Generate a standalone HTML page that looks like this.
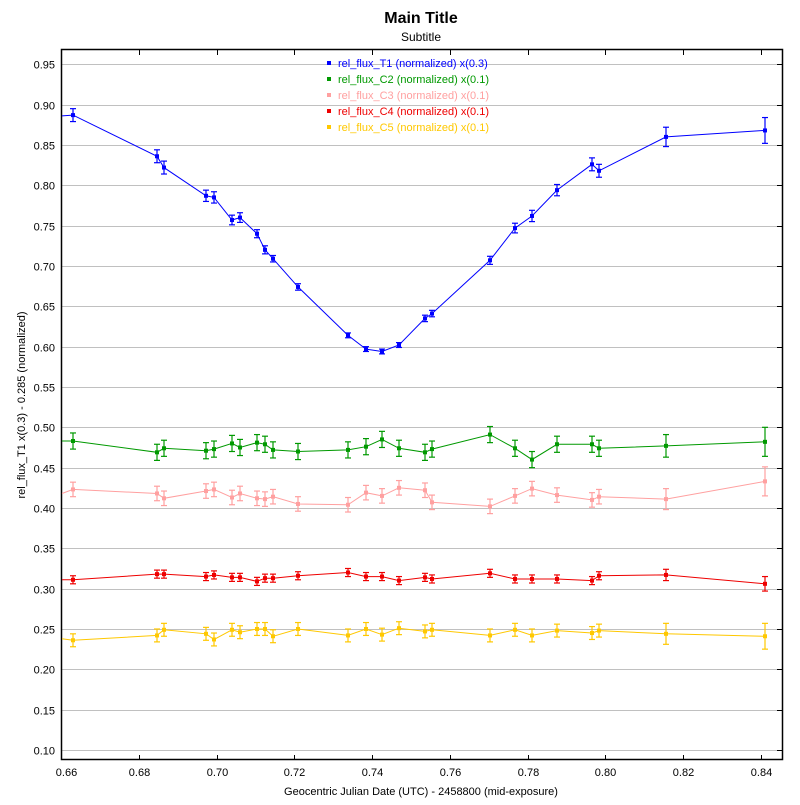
<!DOCTYPE html>
<html><head><meta charset="utf-8"><style>
body{margin:0;background:#fff;font-family:"Liberation Sans",sans-serif}
</style></head><body>
<svg id="s" width="800" height="800" xmlns="http://www.w3.org/2000/svg" font-family="Liberation Sans, sans-serif">
<rect width="800" height="800" fill="#fff"/>
<text x="421" y="23" font-size="16" font-weight="bold" text-anchor="middle">Main Title</text>
<text x="421" y="41" font-size="12" text-anchor="middle">Subtitle</text>
<g id="grid"></g>
<rect x="61.5" y="49.5" width="721" height="710" fill="none" stroke="#000" stroke-width="1.5"/>
<g id="data"></g>
<text x="421" y="795" font-size="11" text-anchor="middle">Geocentric Julian Date (UTC) - 2458800 (mid-exposure)</text>
<text transform="translate(25,405) rotate(-90)" font-size="11" text-anchor="middle">rel_flux_T1 x(0.3) - 0.285 (normalized)</text>
<g id="leg" font-size="11"></g>
</svg>
<script>
const NS="http://www.w3.org/2000/svg";
function el(p,t,a,txt){const e=document.createElementNS(NS,t);for(const k in a)e.setAttribute(k,a[k]);if(txt!=null)e.textContent=txt;p.appendChild(e);return e;}
const Y=v=>64.3+(0.95-v)*806.7;
const X=d=>61.3+(d-0.66)*3885;
const g=document.getElementById('grid');
for(let i=0;i<=17;i++){const v=0.95-i*0.05,y=Math.round(Y(v))+0.5;
el(g,'line',{x1:62,x2:782,y1:y,y2:y,stroke:'#c0c0c0'});
el(g,'line',{x1:777,x2:782,y1:y,y2:y,stroke:'#000'});
el(g,'text',{x:55,y:y+4,'font-size':11,'text-anchor':'end'},v.toFixed(2));}
for(let i=0;i<=9;i++){const d=0.66+i*0.02,x=Math.round(X(d))+0.5;
el(g,'line',{x1:x,x2:x,y1:760,y2:755,stroke:'#000'});
el(g,'line',{x1:x,x2:x,y1:50,y2:55,stroke:'#000'});
el(g,'text',{x:x+(i==0?5:0),y:776,'font-size':11,'text-anchor':'middle'},d.toFixed(2));}
const xs=[73,157,164,206,214,232,240,257,265,273,298,348,366,382,399,425,432,490,515,532,557,592,599,666,765];
const S=[
['#0000ff','rel_flux_T1 (normalized) x(0.3)',0.886,[0.887,0.836,0.822,0.787,0.785,0.757,0.760,0.740,0.720,0.709,0.674,0.614,0.597,0.594,0.602,0.635,0.641,0.707,0.747,0.762,0.794,0.826,0.818,0.860,0.868],[.008,.008,.008,.007,.007,.006,.006,.005,.005,.004,.004,.003,.003,.003,.003,.004,.004,.005,.006,.007,.007,.008,.008,.012,.016]],
['#009900','rel_flux_C2 (normalized) x(0.1)',0.483,[0.483,0.469,0.474,0.471,0.473,0.480,0.475,0.481,0.479,0.472,0.470,0.472,0.476,0.485,0.474,0.469,0.473,0.491,0.474,0.460,0.479,0.479,0.474,0.477,0.482],[.01,.01,.01,.01,.01,.01,.01,.01,.01,.01,.01,.01,.01,.01,.01,.01,.01,.01,.01,.01,.01,.01,.01,.014,.018]],
['#ffa0a0','rel_flux_C3 (normalized) x(0.1)',0.418,[0.423,0.418,0.412,0.421,0.423,0.413,0.418,0.412,0.411,0.414,0.405,0.404,0.419,0.415,0.425,0.422,0.407,0.402,0.415,0.424,0.416,0.410,0.414,0.411,0.433],[.009,.009,.009,.009,.009,.009,.009,.009,.009,.009,.009,.009,.009,.009,.009,.009,.009,.009,.009,.009,.009,.009,.009,.013,.018]],
['#ee0000','rel_flux_C4 (normalized) x(0.1)',0.311,[0.311,0.318,0.318,0.315,0.317,0.314,0.314,0.309,0.313,0.313,0.316,0.320,0.315,0.315,0.310,0.314,0.312,0.319,0.312,0.312,0.312,0.310,0.316,0.317,0.306],[.005,.005,.005,.005,.005,.005,.005,.005,.005,.005,.005,.005,.005,.005,.005,.005,.005,.005,.005,.005,.005,.005,.005,.007,.009]],
['#ffc800','rel_flux_C5 (normalized) x(0.1)',0.238,[0.236,0.242,0.249,0.244,0.237,0.249,0.246,0.250,0.250,0.241,0.250,0.242,0.250,0.243,0.251,0.247,0.249,0.242,0.249,0.242,0.248,0.245,0.248,0.244,0.241],[.008,.008,.008,.008,.008,.008,.008,.008,.008,.008,.008,.008,.008,.008,.008,.008,.008,.008,.008,.008,.008,.008,.008,.013,.016]]];
const D=document.getElementById('data'),L=document.getElementById('leg');
S.forEach((s,k)=>{const [c,name,y0,v,e]=s;
let pts='62,'+Y(y0).toFixed(1)+' '+xs.map((x,i)=>x+','+Y(v[i]).toFixed(1)).join(' ');
el(D,'polyline',{points:pts,fill:'none',stroke:c,'stroke-width':1});
xs.forEach((x,i)=>{const y1=Y(v[i]+e[i]),y2=Y(v[i]-e[i]);
el(D,'line',{x1:x,x2:x,y1:y1,y2:y2,stroke:c,'stroke-width':1.2});
el(D,'line',{x1:x-3,x2:x+3,y1:y1,y2:y1,stroke:c,'stroke-width':1.2});
el(D,'line',{x1:x-3,x2:x+3,y1:y2,y2:y2,stroke:c,'stroke-width':1.2});
el(D,'rect',{x:x-2,y:Y(v[i])-2,width:4,height:4,fill:c});});
const ly=63+k*16;
el(L,'rect',{x:327,y:ly-2,width:4,height:4,fill:c});
el(L,'text',{x:338,y:ly+4,fill:c},name);});
</script>
</body></html>
